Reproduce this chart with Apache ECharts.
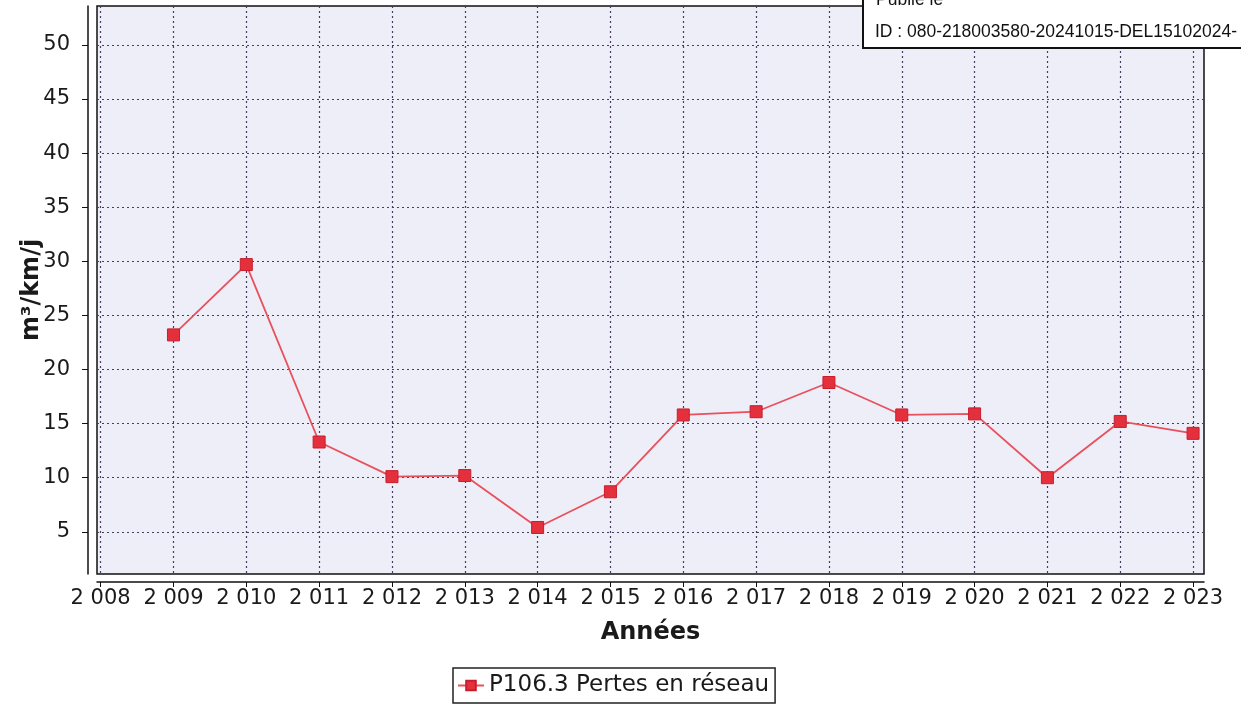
<!DOCTYPE html>
<html><head><meta charset="utf-8">
<script src="https://cdn.jsdelivr.net/npm/echarts@6/dist/echarts.min.js"></script>
<style>html,body{margin:0;padding:0;background:#fff}#c{width:1241px;height:706px}</style>
</head><body><div id="c"></div>
<script>
const years = [2009, 2010, 2011, 2012, 2013, 2014, 2015, 2016, 2017, 2018, 2019, 2020, 2021, 2022, 2023];
const pertes = [23.2, 29.7, 13.3, 10.1, 10.2, 5.4, 8.7, 15.8, 16.1, 18.8, 15.8, 15.9, 10.0, 15.2, 14.1];
const xTicks = [2008, 2009, 2010, 2011, 2012, 2013, 2014, 2015, 2016, 2017, 2018, 2019, 2020, 2021, 2022, 2023];
const yTicks = [5, 10, 15, 20, 25, 30, 35, 40, 45, 50];
const seriesName = 'P106.3 Pertes en réseau';
const xName = 'Années';
const yName = 'm³/km/j';
const stampLines = ['Publié le', 'ID : 080-218003580-20241015-DEL15102024-'];

const chart = echarts.init(document.getElementById('c'));
const gridLine = { show: true, lineStyle: { color: '#4a3c5c', type: [2, 3], width: 1.2 } };
const font = 'DejaVu Sans';
chart.setOption({
  animation: false,
  backgroundColor: '#ffffff',
  grid: {
    left: 97, right: 37, top: 6, bottom: 132,
    show: true, backgroundColor: '#eeeef8', borderColor: '#111', borderWidth: 1.5
  },
  xAxis: {
    type: 'value', min: 2007.95, max: 2023.15, offset: 8,
    name: xName, nameLocation: 'middle', nameGap: 39,
    nameTextStyle: { fontFamily: font, fontSize: 24, fontWeight: 'bold', color: '#1a1a1a' },
    axisLine: { show: true, onZero: false, lineStyle: { color: '#111', width: 1.5 } },
    axisTick: { show: true, length: 5, customValues: xTicks, lineStyle: { color: '#111' } },
    axisLabel: {
      customValues: xTicks, margin: 6, fontFamily: font, fontSize: 21, color: '#1a1a1a',
      formatter: v => String(v).replace(/(\d)(\d{3})$/, '$1 $2')
    },
    splitLine: gridLine
  },
  yAxis: {
    type: 'value', min: 1.1, max: 53.6, offset: 9,
    name: yName, nameLocation: 'middle', nameRotate: 90, nameGap: 44, nameMoveOverlap: false,
    nameTextStyle: { fontFamily: font, fontSize: 24, fontWeight: 'bold', color: '#1a1a1a' },
    axisLine: { show: true, onZero: false, lineStyle: { color: '#111', width: 1.5 } },
    axisTick: { show: true, length: 6, customValues: yTicks, lineStyle: { color: '#111' } },
    axisLabel: { customValues: yTicks, margin: 18, fontFamily: font, fontSize: 21, color: '#1a1a1a' },
    splitLine: gridLine
  },
  legend: {
    left: 453, top: 668, orient: 'horizontal',
    borderColor: '#222', borderWidth: 1.5, padding: [6, 6, 6, 4],
    itemWidth: 26, itemHeight: 12, itemGap: 6,
    textStyle: { fontFamily: font, fontSize: 23, color: '#1a1a1a' },
    data: [seriesName]
  },
  series: [{
    name: seriesName, type: 'line',
    data: years.map((y, i) => [y, pertes[i]]),
    symbol: 'rect', symbolSize: 12,
    lineStyle: { color: '#e8505c', width: 1.8 },
    itemStyle: { color: '#e42f3c', borderColor: '#c81e2c', borderWidth: 1 }
  }],
  graphic: [
    { type: 'rect', shape: { x: 863, y: -10, width: 400, height: 58 },
      style: { fill: '#fff', stroke: '#111', lineWidth: 2 }, z: 100 },
    { type: 'text', x: 876, y: -9, z: 101,
      style: { text: stampLines[0], font: '17.5px "Liberation Sans"', fill: '#111' } },
    { type: 'text', x: 875, y: 23, z: 101,
      style: { text: stampLines[1], font: '17.5px "Liberation Sans"', fill: '#111' } }
  ]
});
</script></body></html>
